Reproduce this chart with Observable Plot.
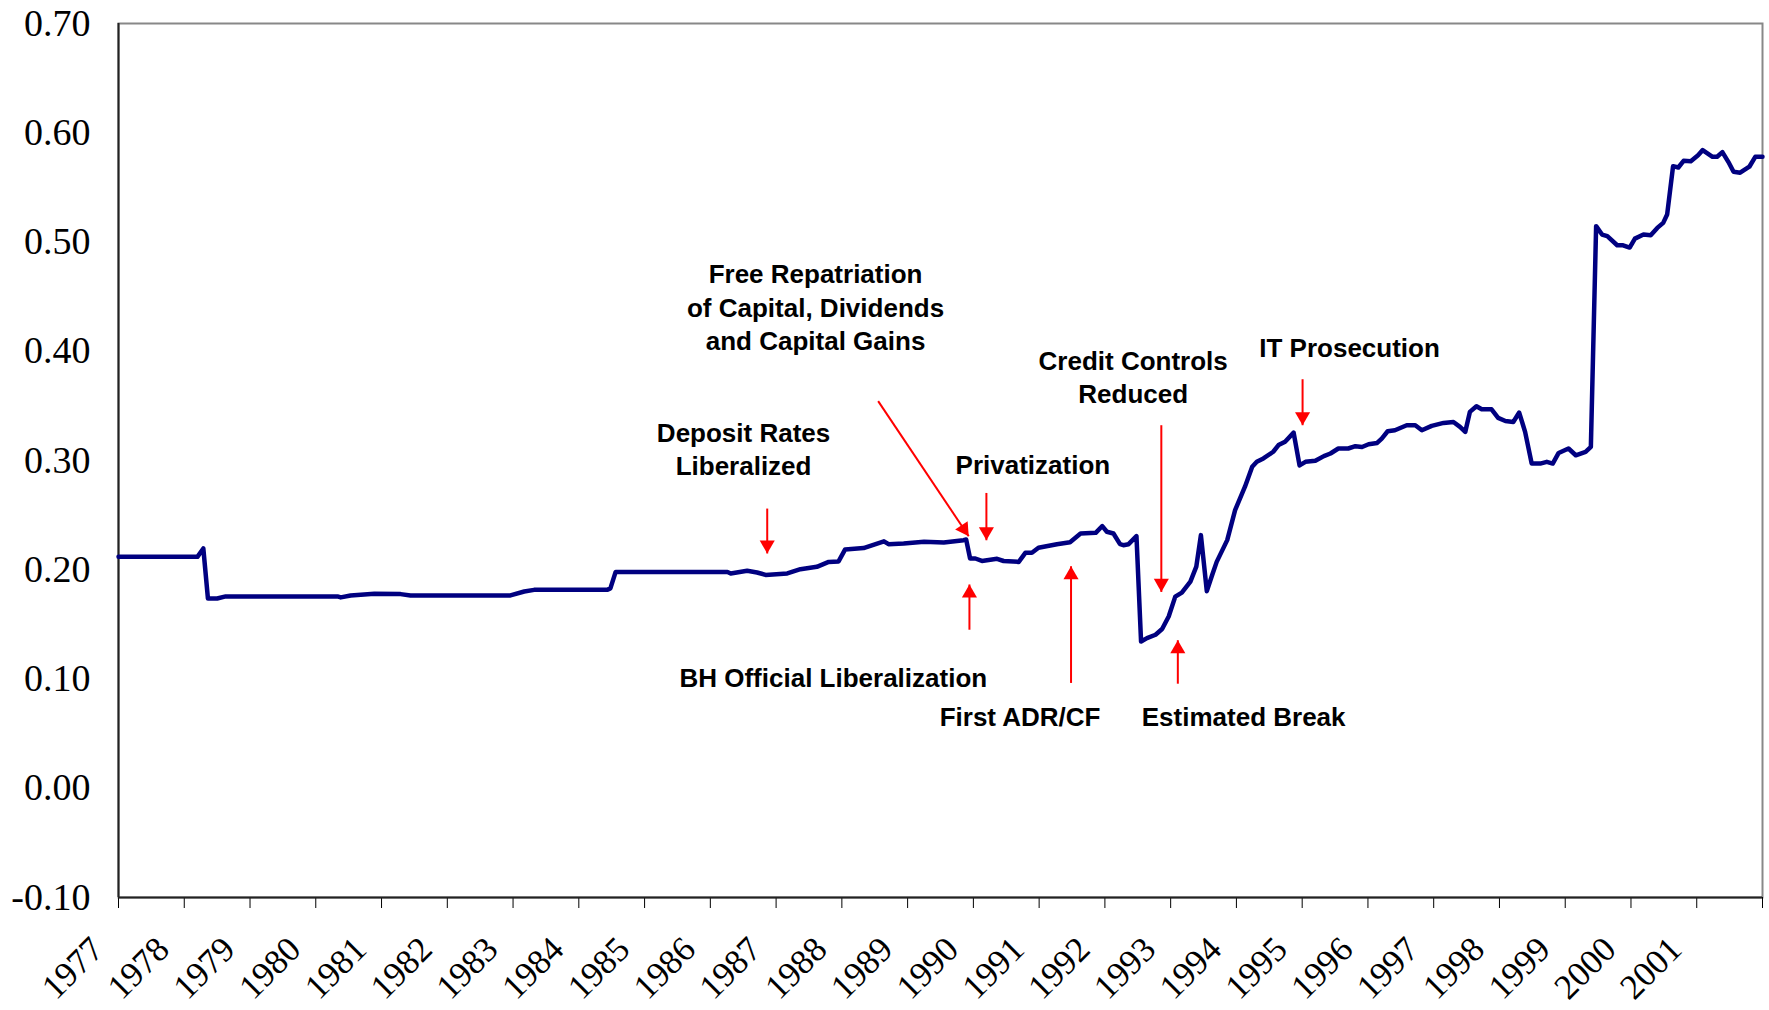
<!DOCTYPE html>
<html><head><meta charset="utf-8">
<script src="https://cdn.jsdelivr.net/npm/d3@7"></script>
<script src="https://cdn.jsdelivr.net/npm/@observablehq/plot@0.6"></script>
<style>html,body{margin:0;padding:0;background:#fff;} svg{display:block;}</style>
</head><body><div id="chart"></div>
<script>
// Series: decimal year and value
const years = [1977.00,1978.20,1978.29,1978.36,1978.50,1978.63,1980.33,1980.38,1980.53,1980.89,1981.29,1981.44,1982.96,1983.17,1983.32,1984.43,1984.48,1984.56,1986.26,1986.31,1986.56,1986.71,1986.84,1987.17,1987.37,1987.62,1987.80,1987.95,1988.05,1988.33,1988.64,1988.71,1988.94,1989.25,1989.55,1989.85,1989.89,1989.95,1990.03,1990.13,1990.36,1990.46,1990.69,1990.79,1990.89,1990.99,1991.27,1991.47,1991.63,1991.86,1991.96,1992.03,1992.13,1992.23,1992.28,1992.36,1992.48,1992.55,1992.64,1992.77,1992.87,1992.97,1993.07,1993.17,1993.30,1993.39,1993.46,1993.55,1993.63,1993.70,1993.86,1993.98,1994.13,1994.24,1994.31,1994.41,1994.56,1994.64,1994.74,1994.87,1994.96,1995.05,1995.20,1995.33,1995.43,1995.55,1995.70,1995.81,1995.91,1996.01,1996.14,1996.21,1996.30,1996.41,1996.59,1996.72,1996.82,1996.97,1997.15,1997.30,1997.40,1997.48,1997.55,1997.65,1997.73,1997.88,1997.98,1998.09,1998.21,1998.30,1998.39,1998.49,1998.62,1998.72,1998.81,1998.90,1999.05,1999.16,1999.31,1999.39,1999.47,1999.56,1999.64,1999.79,1999.88,1999.98,2000.06,2000.19,2000.30,2000.40,2000.49,2000.55,2000.64,2000.72,2000.80,2000.91,2001.02,2001.09,2001.24,2001.31,2001.39,2001.48,2001.56,2001.66,2001.80,2001.89,2002.00];
const values = [0.2118,0.2118,0.2195,0.1737,0.1737,0.1756,0.1756,0.1747,0.1765,0.1780,0.1777,0.1765,0.1765,0.1801,0.1816,0.1816,0.1829,0.1980,0.1980,0.1966,0.1990,0.1975,0.1953,0.1966,0.2005,0.2027,0.2072,0.2076,0.2186,0.2198,0.2260,0.2234,0.2240,0.2256,0.2249,0.2271,0.2277,0.2103,0.2103,0.2081,0.2100,0.2080,0.2072,0.2155,0.2155,0.2201,0.2234,0.2252,0.2332,0.2338,0.2400,0.2348,0.2332,0.2234,0.2225,0.2234,0.2308,0.1343,0.1374,0.1405,0.1457,0.1572,0.1754,0.1791,0.1892,0.2029,0.2317,0.1804,0.1950,0.2072,0.2271,0.2546,0.2760,0.2943,0.2988,0.3019,0.3080,0.3141,0.3172,0.3255,0.2955,0.2988,0.2997,0.3040,0.3064,0.3110,0.3110,0.3131,0.3124,0.3149,0.3161,0.3201,0.3268,0.3277,0.3323,0.3323,0.3277,0.3317,0.3344,0.3353,0.3308,0.3262,0.3445,0.3497,0.3469,0.3469,0.3390,0.3362,0.3353,0.3439,0.3262,0.2972,0.2972,0.2988,0.2972,0.3069,0.3110,0.3048,0.3079,0.3124,0.5145,0.5068,0.5053,0.4970,0.4970,0.4949,0.5031,0.5068,0.5062,0.5129,0.5175,0.5252,0.5694,0.5682,0.5743,0.5740,0.5795,0.5841,0.5780,0.5780,0.5823,0.5734,0.5643,0.5634,0.5689,0.5780,0.5780];

// Axes
const xTickYears = [1977,1978,1979,1980,1981,1982,1983,1984,1985,1986,1987,1988,1989,1990,1991,1992,1993,1994,1995,1996,1997,1998,1999,2000,2001,2002];
const xLabelYears = [1977,1978,1979,1980,1981,1982,1983,1984,1985,1986,1987,1988,1989,1990,1991,1992,1993,1994,1995,1996,1997,1998,1999,2000,2001];
const yTicks = [-0.10,0.00,0.10,0.20,0.30,0.40,0.50,0.60,0.70];

// Annotations (text anchored at the baseline of the last line)
const noteText = ["Free Repatriation\nof Capital, Dividends\nand Capital Gains","Deposit Rates\nLiberalized","Privatization","Credit Controls\nReduced","IT Prosecution","BH Official Liberalization","First ADR/CF","Estimated Break"];
const noteX = [1987.60,1986.505,1990.905,1992.43,1995.72,1987.87,1990.71,1994.11];
const noteY = [0.4010,0.2865,0.2874,0.3524,0.3947,0.0929,0.0568,0.0568];

// Arrows: start -> tip
const arrowKind = ["down","down","diag","up","up","down","up","down"];
const arrowX1 = [1986.865,1990.198,1988.552,1989.94,1991.485,1992.858,1993.109,1995.006];
const arrowY1 = [0.2560,0.2703,0.3543,0.1451,0.0964,0.3323,0.0957,0.3744];
const arrowX2 = [1986.865,1990.198,1989.929,1989.94,1991.485,1992.858,1993.109,1995.006];
const arrowY2 = [0.2149,0.2270,0.2307,0.1865,0.2032,0.1797,0.1355,0.3323];

const series = years.map((t, i) => ({t, v: values[i]}));
const notes = noteText.map((s, i) => ({s, x: noteX[i], y: noteY[i]}));
const arrows = arrowKind.map((k, i) => ({k, x1: arrowX1[i], y1: arrowY1[i], x2: arrowX2[i], y2: arrowY2[i]}));

const serif = "'Times New Roman', 'Liberation Serif', serif";
const sans = "Arial, 'Liberation Sans', sans-serif";
const red = "#ff0000";
const headR = 5.6;
const off = 2 * headR * 0.7776;
const diagAng = 146;
const diagS = Math.sin(diagAng * Math.PI / 180), diagC = -Math.cos(diagAng * Math.PI / 180);

const chart = Plot.plot({
  width: 1769,
  height: 1010,
  marginLeft: 118,
  marginRight: 7,
  marginTop: 23,
  marginBottom: 113,
  style: {background: "#fff"},
  x: {domain: [1977, 2002]},
  y: {domain: [-0.1, 0.7]},
  marks: [
    Plot.frame({stroke: "#888", strokeWidth: 2}),
    Plot.axisY({ticks: yTicks, tickSize: 11, tickPadding: 17, tickFormat: d => d.toFixed(2), fontSize: 38, fontFamily: serif, fill: "#000", stroke: null, label: null}),
    Plot.axisX({ticks: xTickYears, tickSize: 11, tickFormat: () => "", label: null}),
    Plot.ruleX([1977], {stroke: "#222", strokeWidth: 2}),
    Plot.ruleY([-0.1], {stroke: "#222", strokeWidth: 2}),
    Plot.text(xLabelYears, {x: d => d, y: () => -0.1, text: d => String(d), rotate: -45, textAnchor: "end", dx: -21, dy: 46, fontSize: 35, fontFamily: serif, fill: "#000"}),
    Plot.line(series, {x: "t", y: "v", stroke: "#000080", strokeWidth: 4.5, strokeLinejoin: "round", strokeLinecap: "round"}),
    Plot.link(arrows, {x1: "x1", y1: "y1", x2: "x2", y2: "y2", stroke: red, strokeWidth: 2}),
    Plot.dot(arrows.filter(a => a.k === "up"), {x: "x2", y: "y2", symbol: "triangle", r: headR, fill: red, stroke: null, dy: off}),
    Plot.dot(arrows.filter(a => a.k === "down"), {x: "x2", y: "y2", symbol: "triangle", r: headR, fill: red, stroke: null, rotate: 180, dy: -off}),
    Plot.dot(arrows.filter(a => a.k === "diag"), {x: "x2", y: "y2", symbol: "triangle", r: headR, fill: red, stroke: null, rotate: diagAng, dx: -off * diagS, dy: -off * diagC}),
    Plot.text(notes, {x: "x", y: "y", text: "s", lineAnchor: "bottom", lineHeight: 1.285, textAnchor: "middle", fontSize: 26, fontWeight: "bold", fontFamily: sans, fill: "#000"})
  ]
});
document.getElementById("chart").appendChild(chart);
</script>
</body></html>
